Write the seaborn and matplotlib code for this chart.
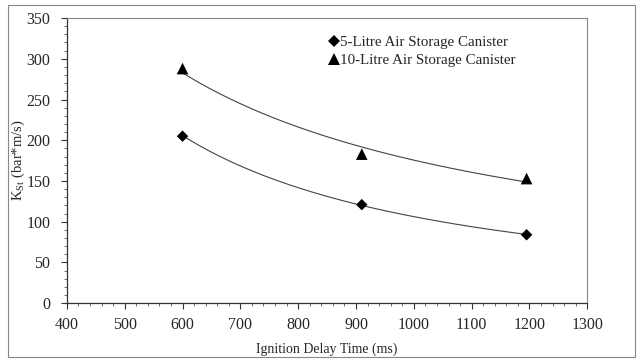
import numpy as np
import pandas as pd
import matplotlib
matplotlib.use("Agg")
import matplotlib.pyplot as plt
import seaborn as sns
from matplotlib.ticker import MultipleLocator
from matplotlib.patches import Rectangle

# Measured deflagration index versus ignition delay
delay_5l = [600, 910, 1195]
kst_5l = [205, 121, 84]
delay_10l = [600, 910, 1195]
kst_10l = [288, 183, 153]
series_names = ["5-Litre Air Storage Canister", "10-Litre Air Storage Canister"]

df = pd.DataFrame({
    "delay": delay_5l + delay_10l,
    "kst": kst_5l + kst_10l,
    "canister": [series_names[0]] * 3 + [series_names[1]] * 3,
})

sns.set_style("ticks")
plt.rcParams["font.family"] = ["Liberation Serif", "DejaVu Serif"]

fig = plt.figure(figsize=(6.37, 3.61), dpi=100)
ax = fig.add_axes([0.105, 0.16, 0.817, 0.79])

sns.scatterplot(data=df, x="delay", y="kst", hue="canister", style="canister",
                size="canister",
                sizes={series_names[0]: 34, series_names[1]: 70},
                markers={series_names[0]: "D", series_names[1]: "^"},
                palette={series_names[0]: "black", series_names[1]: "black"},
                edgecolor="black", linewidth=0, ax=ax, zorder=3)

# Power-law trend lines
for xs, ys in [(delay_5l, kst_5l), (delay_10l, kst_10l)]:
    b, a = np.polyfit(np.log(xs), np.log(ys), 1)
    xx = np.linspace(min(xs), max(xs), 200)
    sns.lineplot(x=xx, y=np.exp(a) * xx ** b, color="#444444", lw=0.8, ax=ax, zorder=2)

ax.set_xlim(400, 1300)
ax.set_ylim(0, 350)
ax.xaxis.set_major_locator(MultipleLocator(100))
ax.xaxis.set_minor_locator(MultipleLocator(20))
ax.yaxis.set_major_locator(MultipleLocator(50))
ax.yaxis.set_minor_locator(MultipleLocator(10))
ax.tick_params(axis="both", which="major", length=4, width=0.8, labelsize=11.5, color="#333333")
ax.tick_params(axis="y", which="major", pad=8)
ax.tick_params(axis="x", which="major", pad=6)
ax.tick_params(axis="both", which="minor", length=2.5, width=0.6, color="#555555")
for side in ["left", "bottom"]:
    ax.spines[side].set_color("#333333")
    ax.spines[side].set_linewidth(0.9)
for side in ["top", "right"]:
    ax.spines[side].set_color("#888888")
    ax.spines[side].set_linewidth(0.8)

ax.set_xlabel("Ignition Delay Time (ms)", fontsize=10, labelpad=7)
ax.set_ylabel("K$_{\\mathregular{St}}$ (bar*m/s)", fontsize=10.5)
ax.yaxis.set_label_coords(-0.076, 0.5)

handles, labels = ax.get_legend_handles_labels()
handles[0].set_markersize(6)
handles[1].set_markersize(9)
ax.legend(handles=handles, labels=labels, loc="upper left", bbox_to_anchor=(0.49, 0.96),
          frameon=False, fontsize=10.8, handlelength=0.8, handletextpad=0.0,
          labelspacing=0.3, borderaxespad=0.0)

# Outer chart border
fig.patches.append(Rectangle((0.012, 0.012), 0.985, 0.975, transform=fig.transFigure,
                             fill=False, edgecolor="#888888", lw=0.8))

fig.savefig("out.png", dpi=100, facecolor="white")
